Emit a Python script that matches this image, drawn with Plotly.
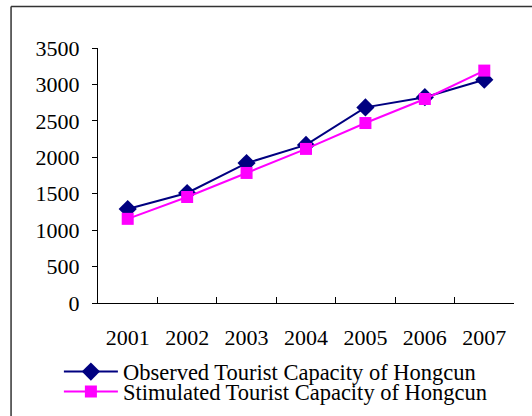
import plotly.graph_objects as go

years = ["2001", "2002", "2003", "2004", "2005", "2006", "2007"]
observed = [1290, 1510, 1920, 2170, 2685, 2825, 3065]
simulated = [1155, 1455, 1785, 2115, 2470, 2800, 3190]
y_ticks = [0, 500, 1000, 1500, 2000, 2500, 3000, 3500]

FONT = "Times New Roman, Liberation Serif, DejaVu Serif, serif"

fig = go.Figure()
fig.add_trace(go.Scatter(
    x=years, y=observed, mode="lines+markers",
    name="Observed Tourist Capacity of Hongcun",
    line=dict(color="#000080", width=2),
    marker=dict(symbol="diamond", size=14, color="#000080"),
    legend="legend",
))
fig.add_trace(go.Scatter(
    x=years, y=simulated, mode="lines+markers",
    name="Stimulated Tourist Capacity of Hongcun",
    line=dict(color="#FF00FF", width=2),
    marker=dict(symbol="square", size=12, color="#FF00FF"),
    legend="legend2",
))

leg_common = dict(
    x=-0.094, xanchor="left", yanchor="middle",
    bgcolor="rgba(0,0,0,0)", borderwidth=0,
    font=dict(family=FONT, size=22.5, color="black"),
    itemwidth=54,
)

border = dict(color="#333333", width=1.5)

fig.update_layout(
    width=532, height=416,
    margin=dict(l=98, r=18, t=48, b=113, autoexpand=False),
    paper_bgcolor="white", plot_bgcolor="white",
    font=dict(family=FONT, size=22, color="black"),
    showlegend=True,
    legend=dict(y=-0.2705, **leg_common),
    legend2=dict(y=-0.349, **leg_common),
    shapes=[
        dict(type="line", xref="paper", yref="paper",
             x0=-0.209, x1=1.1, y0=1.163, y1=1.163, line=border, layer="below"),
        dict(type="line", xref="paper", yref="paper",
             x0=-0.209, x1=-0.209, y0=-0.5, y1=1.163, line=border, layer="below"),
    ],
)
fig.update_xaxes(
    type="category", range=[-0.5, 6.5],
    showline=True, linecolor="black", linewidth=1,
    showgrid=False, zeroline=False,
    ticks="inside", ticklen=6, tickcolor="black", tickson="boundaries",
    ticklabelstandoff=15,
)
fig.update_yaxes(
    range=[0, 3500], tickvals=y_ticks,
    showline=True, linecolor="black", linewidth=1,
    showgrid=False, zeroline=False,
    ticks="outside", ticklen=5, tickcolor="black",
    ticklabelstandoff=8,
)

fig.write_html(
    "out.html", config={"displayModeBar": False},
    post_script="document.body.style.margin='0';document.body.style.overflow='hidden';document.documentElement.style.overflow='hidden';",
)
